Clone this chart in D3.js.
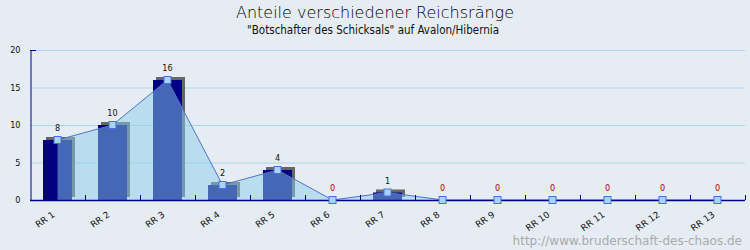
<!DOCTYPE html>
<html>
<head>
<meta charset="utf-8">
<script src="https://cdn.jsdelivr.net/npm/d3@7"></script>
<style>
  body { margin: 0; background: #e6ecf3; }
  svg { display: block; }
</style>
</head>
<body>
<div id="chart"></div>
<script>
// Daten
const categories = ["RR 1", "RR 2", "RR 3", "RR 4", "RR 5", "RR 6", "RR 7", "RR 8", "RR 9", "RR 10", "RR 11", "RR 12", "RR 13"];
const values = [8, 10, 16, 2, 4, 0, 1, 0, 0, 0, 0, 0, 0];
const yTicks = [0, 5, 10, 15, 20];

const width = 750, height = 250;
const plotLeft = 30, plotRight = 745, plotTop = 50, plotBottom = 200;

const svg = d3.select("#chart").append("svg")
    .attr("width", width)
    .attr("height", height)
    .style("font-family", "DejaVu Sans, sans-serif");

svg.append("rect").attr("width", width).attr("height", height).attr("fill", "#e6ecf3");

const x = d3.scaleBand().domain(categories).range([plotLeft, plotRight]).padding(0);
const y = d3.scaleLinear().domain([0, 20]).range([plotBottom, plotTop]);
const cx = d => x(d) + x.bandwidth() / 2;
const barW = 29;

// Titel
svg.append("text")
    .attr("x", 375).attr("y", 18)
    .attr("text-anchor", "middle")
    .style("font-size", "16px")
    .style("font-weight", 200)
    .attr("fill", "#000")
    .text("Anteile verschiedener Reichsränge");

svg.append("text")
    .attr("x", 373).attr("y", 34)
    .attr("text-anchor", "middle")
    .style("font-family", "DejaVu Sans Condensed, DejaVu Sans, sans-serif")
    .style("font-size", "11.5px")
    .attr("fill", "#111")
    .text("\"Botschafter des Schicksals\" auf Avalon/Hibernia");

// Gitterlinien
svg.append("g").selectAll("line")
    .data(yTicks.filter(t => t > 0))
    .join("line")
    .attr("x1", plotLeft).attr("x2", plotRight)
    .attr("y1", d => y(d) + 0.5).attr("y2", d => y(d) + 0.5)
    .attr("stroke", "#a8d8e8");

// Y-Achse
const yAxis = svg.append("g")
    .attr("transform", `translate(${plotLeft + 0.5},0)`)
    .call(d3.axisLeft(y).tickValues(yTicks).tickSize(0).tickPadding(10));
yAxis.select(".domain").attr("stroke", "#000080");
yAxis.selectAll("text").style("font-size", "9px").attr("fill", "#111")
    .style("font-family", "DejaVu Sans Condensed, DejaVu Sans, sans-serif");
svg.append("line")
    .attr("x1", plotLeft).attr("x2", plotLeft + 6)
    .attr("y1", plotTop + 0.5).attr("y2", plotTop + 0.5)
    .attr("stroke", "#000080");

// Balken mit Schatten
const data = categories.map((c, i) => ({ cat: c, value: values[i] }));
const bars = svg.append("g");
bars.selectAll(".shadow")
    .data(data.filter(d => d.value > 0))
    .join("rect")
    .attr("class", "shadow")
    .attr("x", d => cx(d.cat) - barW / 2 + 3)
    .attr("y", d => y(d.value) - 3)
    .attr("width", barW)
    .attr("height", d => plotBottom - y(d.value))
    .attr("fill", "#666");
bars.selectAll(".bar")
    .data(data.filter(d => d.value > 0))
    .join("rect")
    .attr("class", "bar")
    .attr("x", d => cx(d.cat) - barW / 2)
    .attr("y", d => y(d.value))
    .attr("width", barW)
    .attr("height", d => plotBottom - y(d.value))
    .attr("fill", "#000080");

// Fläche + Linie
const area = d3.area().x(d => cx(d.cat)).y0(plotBottom).y1(d => y(d.value));
const line = d3.line().x(d => cx(d.cat)).y(d => y(d.value));
svg.append("path").datum(data).attr("d", area)
    .attr("fill", "#87ceeb").attr("fill-opacity", 0.5);
svg.append("path").datum(data).attr("d", line)
    .attr("fill", "none").attr("stroke", "#5470d0").attr("stroke-width", 1);

// X-Achse
svg.append("line")
    .attr("x1", plotLeft).attr("x2", plotRight)
    .attr("y1", plotBottom + 0.5).attr("y2", plotBottom + 0.5)
    .attr("stroke", "#000080").attr("stroke-width", 1.5);
const tickPos = categories.slice(1).map(c => x(c)).concat([plotRight]);
svg.append("g").selectAll("line")
    .data(tickPos)
    .join("line")
    .attr("x1", d => d + 0.5).attr("x2", d => d + 0.5)
    .attr("y1", plotBottom - 5).attr("y2", plotBottom)
    .attr("stroke", "#000080");

// Markierungen
svg.append("g").selectAll("rect")
    .data(data)
    .join("rect")
    .attr("x", d => cx(d.cat) - 3.5)
    .attr("y", d => y(d.value) - 3.5)
    .attr("width", 7).attr("height", 7)
    .attr("fill", "#a8d4f4")
    .attr("stroke", "#4a6ee0");

// Wertbeschriftungen
svg.append("g").selectAll("text")
    .data(data)
    .join("text")
    .attr("x", d => cx(d.cat))
    .attr("y", d => y(d.value) - 9)
    .attr("text-anchor", "middle")
    .style("font-family", "DejaVu Sans Condensed, DejaVu Sans, sans-serif")
    .style("font-size", "9px")
    .attr("fill", d => d.value === 0 ? "#b00000" : "#111")
    .text(d => d.value);

// Kategorien
svg.append("g").selectAll("text")
    .data(categories)
    .join("text")
    .attr("transform", d => `translate(${cx(d) - 2},${plotBottom + 16}) rotate(-35)`)
    .attr("text-anchor", "end")
    .style("font-size", "9px")
    .attr("fill", "#111")
    .text(d => d);

// Wasserzeichen
svg.append("text")
    .attr("x", 742).attr("y", 245)
    .attr("text-anchor", "end")
    .style("font-size", "12px")
    .attr("fill", "#aaa")
    .text("http://www.bruderschaft-des-chaos.de");
</script>
</body>
</html>
